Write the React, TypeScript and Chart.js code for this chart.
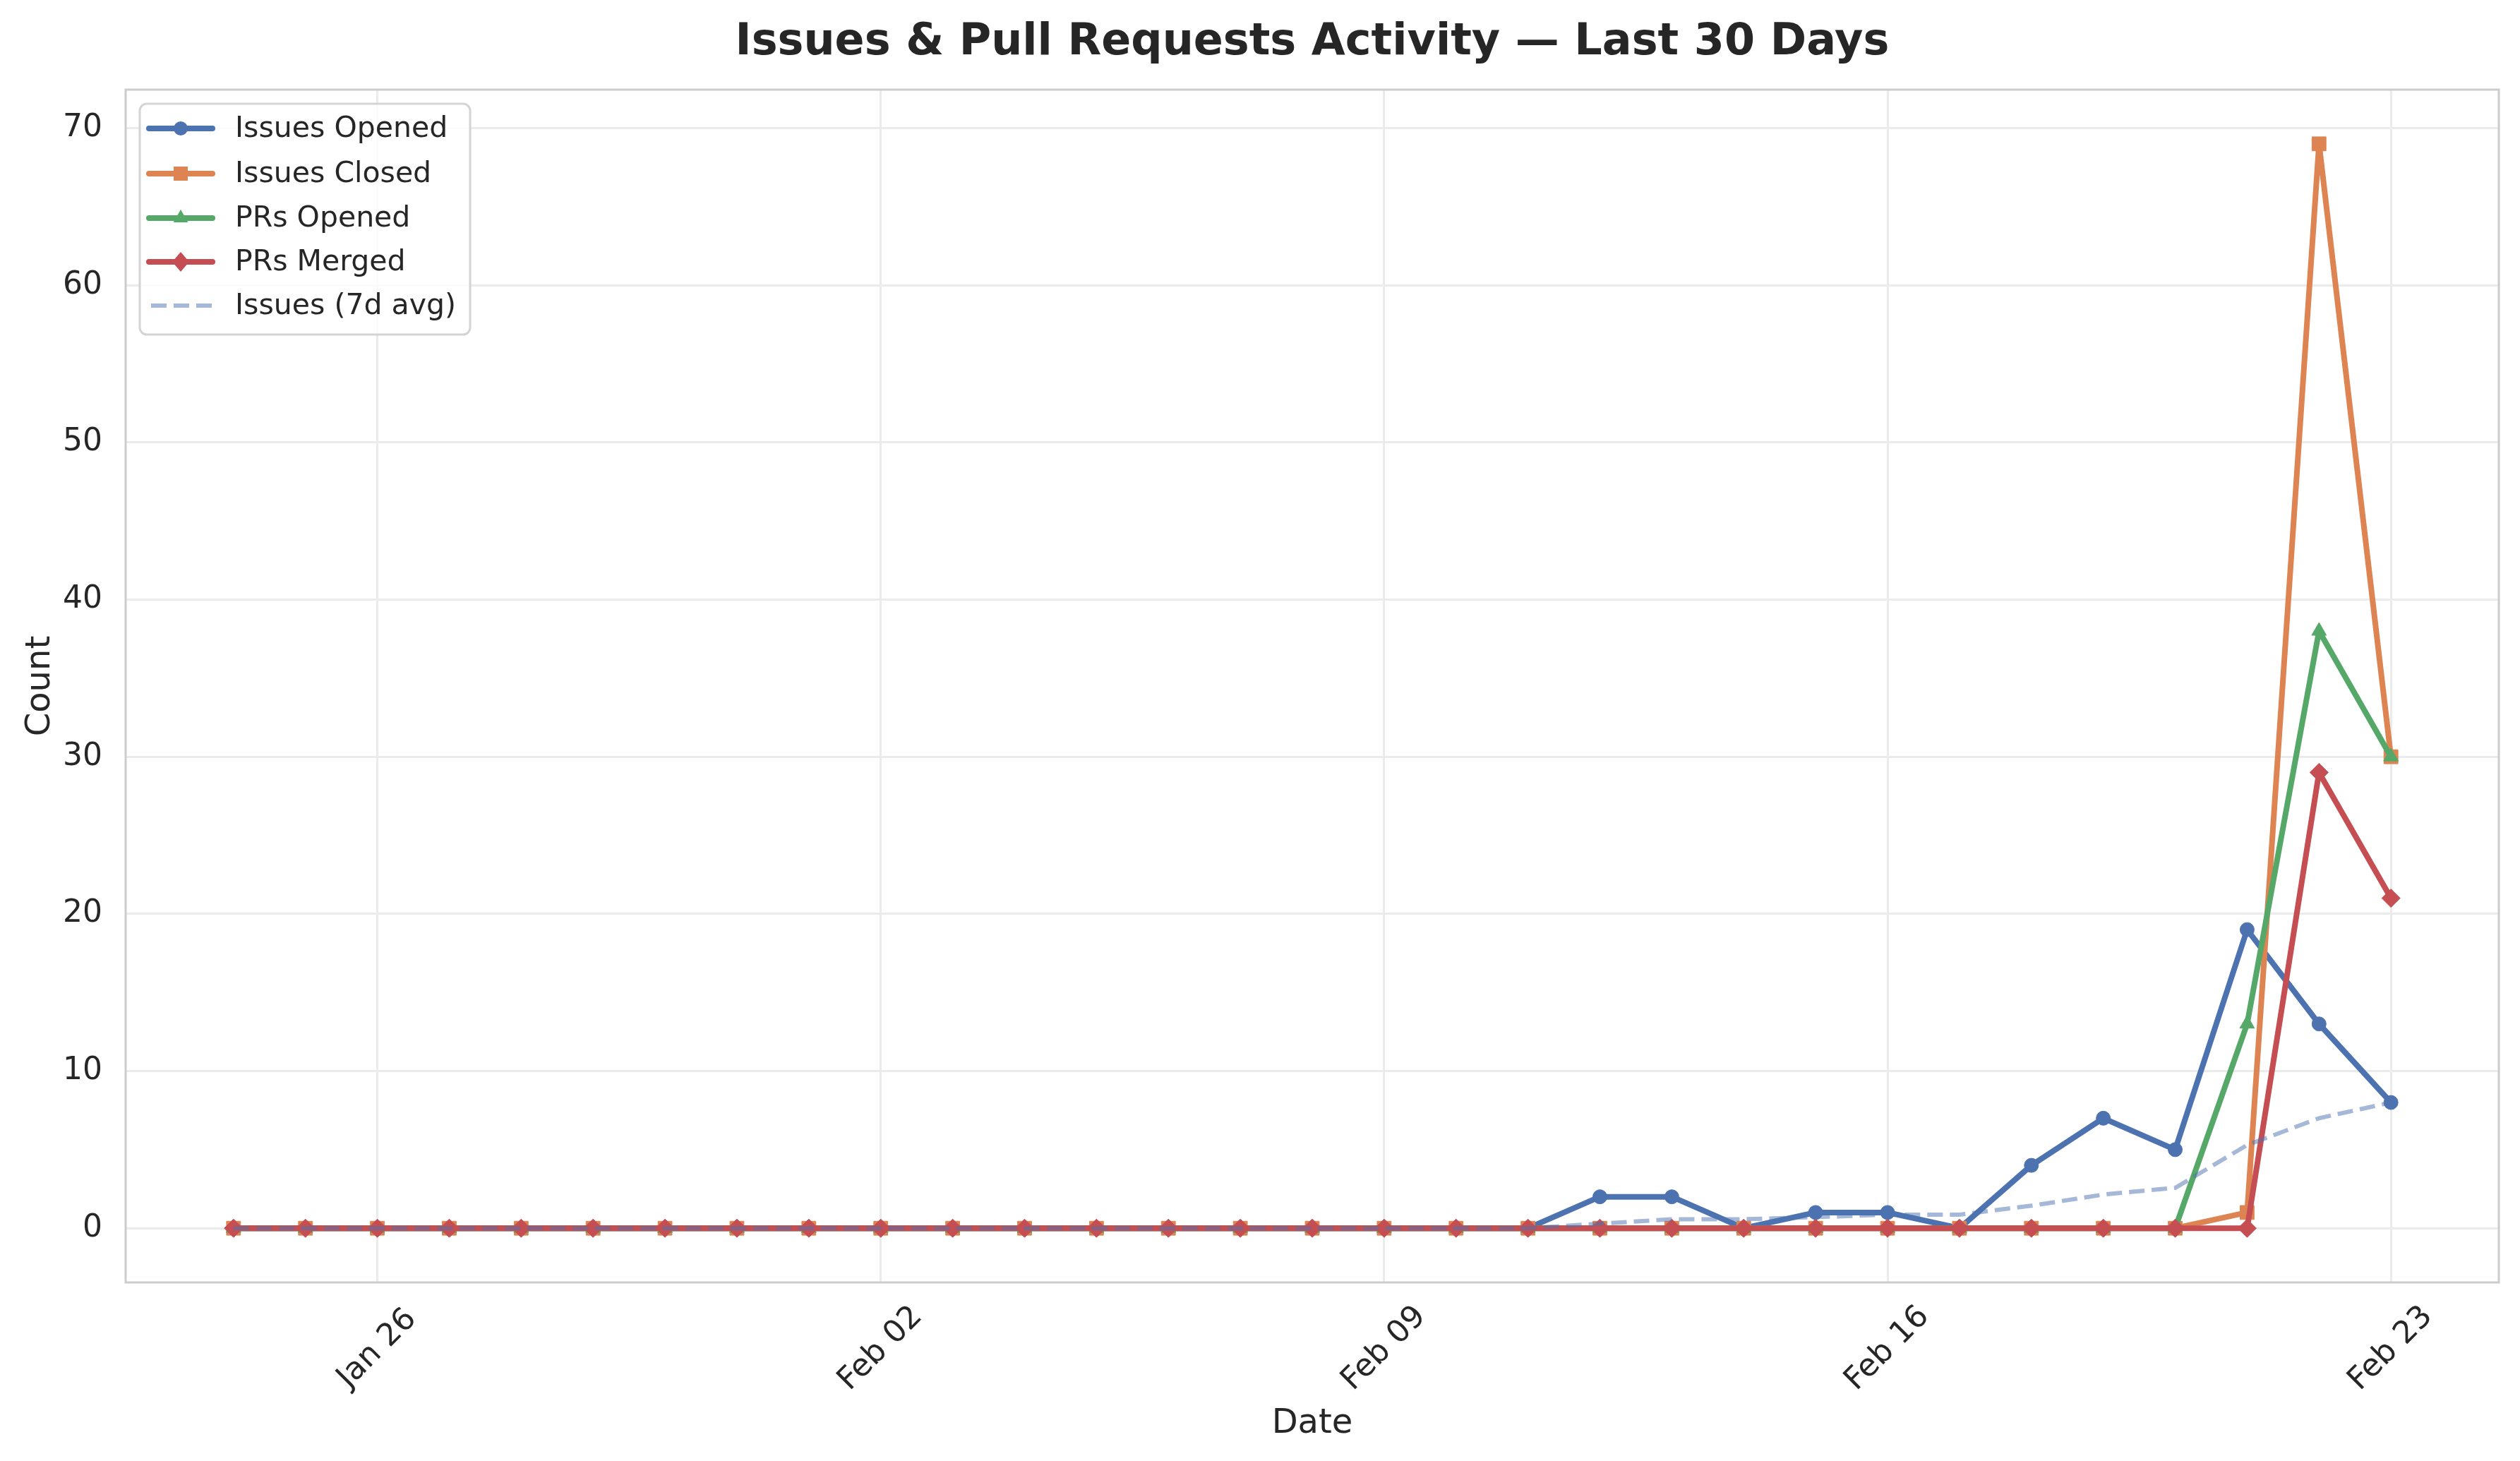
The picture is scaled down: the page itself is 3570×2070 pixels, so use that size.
import React, { useEffect, useRef } from 'react';
import { Chart, registerables } from 'chart.js';

Chart.register(...registerables);

// ---- data ----
const dayLabels = [
  'Jan 24', 'Jan 25', 'Jan 26', 'Jan 27', 'Jan 28', 'Jan 29', 'Jan 30', 'Jan 31',
  'Feb 01', 'Feb 02', 'Feb 03', 'Feb 04', 'Feb 05', 'Feb 06', 'Feb 07', 'Feb 08',
  'Feb 09', 'Feb 10', 'Feb 11', 'Feb 12', 'Feb 13', 'Feb 14', 'Feb 15', 'Feb 16',
  'Feb 17', 'Feb 18', 'Feb 19', 'Feb 20', 'Feb 21', 'Feb 22', 'Feb 23',
];
const xTickPositions = [2, 9, 16, 23, 30];
const xTickLabels = ['Jan 26', 'Feb 02', 'Feb 09', 'Feb 16', 'Feb 23'];
const yTickValues = [0, 10, 20, 30, 40, 50, 60, 70];

const issuesOpened = [
  0, 0, 0, 0, 0, 0, 0, 0, 0, 0, 0, 0, 0, 0, 0, 0, 0, 0, 0,
  2, 2, 0, 1, 1, 0, 4, 7, 5, 19, 13, 8,
];
const issuesClosed = [
  0, 0, 0, 0, 0, 0, 0, 0, 0, 0, 0, 0, 0, 0, 0, 0, 0, 0, 0,
  0, 0, 0, 0, 0, 0, 0, 0, 0, 1, 69, 30,
];
const prsOpened = [
  0, 0, 0, 0, 0, 0, 0, 0, 0, 0, 0, 0, 0, 0, 0, 0, 0, 0, 0,
  0, 0, 0, 0, 0, 0, 0, 0, 0, 13, 38, 30,
];
const prsMerged = [
  0, 0, 0, 0, 0, 0, 0, 0, 0, 0, 0, 0, 0, 0, 0, 0, 0, 0, 0,
  0, 0, 0, 0, 0, 0, 0, 0, 0, 0, 29, 21,
];
const issues7dAvg = [
  0, 0, 0, 0, 0, 0, 0, 0, 0, 0, 0, 0, 0, 0, 0, 0, 0, 0, 0,
  0.29, 0.57, 0.57, 0.71, 0.86, 0.86, 1.43, 2.14, 2.57, 5.29, 7.0, 8.0,
];

const seriesNames = ['Issues Opened', 'Issues Closed', 'PRs Opened', 'PRs Merged', 'Issues (7d avg)'];

// ---- styles ----
const W = 3570;
const H = 2070;
const AREA = { left: 178, right: 3540, top: 127, bottom: 1817 };
const BLUE = '#4C72B0';
const ORANGE = '#DD8452';
const GREEN = '#55A868';
const RED = '#C44E52';
const AVG = 'rgba(76,114,176,0.5)';
const TEXT = '#262626';
const FONT = '"DejaVu Sans", sans-serif';

const toXY = (arr: number[]) => arr.map((v, i) => ({ x: i, y: v }));

function drawMarker(ctx: CanvasRenderingContext2D, kind: string, x: number, y: number, color: string) {
  ctx.save();
  ctx.fillStyle = color;
  ctx.beginPath();
  if (kind === 'circle') {
    ctx.arc(x, y, 10, 0, Math.PI * 2);
  } else if (kind === 'rect') {
    ctx.rect(x - 10, y - 10, 20, 20);
  } else if (kind === 'triangle') {
    const r = 12;
    ctx.moveTo(x, y - r);
    ctx.lineTo(x + r * 0.866, y + r / 2);
    ctx.lineTo(x - r * 0.866, y + r / 2);
    ctx.closePath();
  } else if (kind === 'diamond') {
    ctx.moveTo(x, y - 14);
    ctx.lineTo(x + 12, y);
    ctx.lineTo(x, y + 14);
    ctx.lineTo(x - 12, y);
    ctx.closePath();
  }
  ctx.fill();
  ctx.restore();
}

const decorPlugin = {
  id: 'decor',
  beforeDraw(chart: any) {
    const ctx = chart.ctx as CanvasRenderingContext2D;
    ctx.save();
    ctx.fillStyle = '#ffffff';
    ctx.fillRect(0, 0, chart.width, chart.height);
    ctx.restore();
  },
  beforeDatasetsDraw(chart: any) {
    const ctx = chart.ctx as CanvasRenderingContext2D;
    const a = chart.chartArea;
    ctx.save();
    ctx.strokeStyle = '#cccccc';
    ctx.lineWidth = 3;
    ctx.strokeRect(a.left, a.top, a.right - a.left, a.bottom - a.top);
    ctx.restore();
  },
  afterDraw(chart: any) {
    const ctx = chart.ctx as CanvasRenderingContext2D;
    const a = chart.chartArea;
    const xs = chart.scales.x;
    ctx.save();
    // title
    ctx.fillStyle = TEXT;
    ctx.font = `bold 62px ${FONT}`;
    ctx.textAlign = 'center';
    ctx.textBaseline = 'alphabetic';
    ctx.fillText('Issues & Pull Requests Activity — Last 30 Days', (a.left + a.right) / 2, 77);

    // axis titles
    ctx.font = `48px ${FONT}`;
    ctx.fillText('Date', (a.left + a.right) / 2, 2030);
    ctx.save();
    ctx.translate(70, (a.top + a.bottom) / 2);
    ctx.rotate(-Math.PI / 2);
    ctx.textAlign = 'center';
    ctx.textBaseline = 'alphabetic';
    ctx.fillText('Count', 0, 0);
    ctx.restore();

    // x tick labels (rotated 45°, centered under tick)
    ctx.font = `44px ${FONT}`;
    xTickPositions.forEach((pos, i) => {
      const px = xs.getPixelForValue(pos);
      ctx.save();
      ctx.translate(px, 1911);
      ctx.rotate(-Math.PI / 4);
      ctx.textAlign = 'center';
      ctx.textBaseline = 'middle';
      ctx.fillText(xTickLabels[i], 0, 0);
      ctx.restore();
    });

    // legend
    const lx = 198, ly = 147, lw = 468, lh = 327, rr = 10;
    ctx.beginPath();
    ctx.moveTo(lx + rr, ly);
    ctx.arcTo(lx + lw, ly, lx + lw, ly + lh, rr);
    ctx.arcTo(lx + lw, ly + lh, lx, ly + lh, rr);
    ctx.arcTo(lx, ly + lh, lx, ly, rr);
    ctx.arcTo(lx, ly, lx + lw, ly, rr);
    ctx.closePath();
    ctx.fillStyle = 'rgba(255,255,255,0.8)';
    ctx.fill();
    ctx.strokeStyle = '#d4d4d4';
    ctx.lineWidth = 3;
    ctx.stroke();

    const rows = [182, 246, 309, 371, 433];
    const colors = [BLUE, ORANGE, GREEN, RED, AVG];
    const markers = ['circle', 'rect', 'triangle', 'diamond', ''];
    rows.forEach((ry, i) => {
      ctx.save();
      ctx.strokeStyle = colors[i];
      if (i < 4) {
        ctx.lineWidth = 8;
        ctx.lineCap = 'round';
        ctx.beginPath();
        ctx.moveTo(211, ry);
        ctx.lineTo(301, ry);
        ctx.stroke();
        drawMarker(ctx, markers[i], 256, ry, colors[i]);
      } else {
        ctx.lineWidth = 6;
        ctx.lineCap = 'butt';
        ctx.setLineDash([22, 10]);
        ctx.beginPath();
        ctx.moveTo(214, ry);
        ctx.lineTo(300, ry);
        ctx.stroke();
      }
      ctx.restore();
      ctx.fillStyle = TEXT;
      ctx.font = `41px ${FONT}`;
      ctx.textAlign = 'left';
      ctx.textBaseline = 'middle';
      ctx.fillText(seriesNames[i], 333, ry + 1);
    });
    ctx.restore();
  },
};

function lineDataset(label: string, values: number[], color: string, pointStyle: string, radius: number, order: number) {
  return {
    label,
    data: toXY(values),
    borderColor: color,
    backgroundColor: color,
    borderWidth: 8,
    borderCapStyle: 'round',
    borderJoinStyle: 'round',
    pointStyle,
    pointRadius: radius,
    pointBackgroundColor: color,
    pointBorderColor: color,
    pointBorderWidth: 1,
    tension: 0,
    fill: false,
    order,
  };
}

export default function App() {
  const ref = useRef<HTMLCanvasElement | null>(null);

  useEffect(() => {
    document.body.style.margin = '0';
    document.body.style.overflow = 'hidden';
    const canvas = ref.current;
    if (!canvas) return;
    const chart = new Chart(canvas, {
      type: 'line',
      data: {
        datasets: [
          lineDataset(seriesNames[0], issuesOpened, BLUE, 'circle', 10, 5),
          lineDataset(seriesNames[1], issuesClosed, ORANGE, 'rect', 14, 4),
          lineDataset(seriesNames[2], prsOpened, GREEN, 'triangle', 12, 3),
          lineDataset(seriesNames[3], prsMerged, RED, 'rectRot', 13, 2),
          {
            label: seriesNames[4],
            data: toXY(issues7dAvg),
            borderColor: AVG,
            backgroundColor: AVG,
            borderWidth: 6,
            borderDash: [22, 10],
            pointRadius: 0,
            tension: 0,
            fill: false,
            order: 1,
          },
        ] as any,
      },
      options: {
        responsive: false,
        animation: false,
        devicePixelRatio: 1,
        layout: { padding: { left: 0, right: W - AREA.right, top: AREA.top, bottom: 0 } },
        plugins: {
          legend: { display: false },
          title: { display: false },
          tooltip: { enabled: false },
        },
        scales: {
          x: {
            type: 'linear',
            min: -1.5,
            max: 31.5,
            afterBuildTicks: (scale: any) => {
              scale.ticks = xTickPositions.map((v) => ({ value: v }));
            },
            afterFit: (scale: any) => {
              scale.height = H - AREA.bottom;
            },
            ticks: { display: false },
            grid: { color: '#ebebeb', lineWidth: 3, drawTicks: false },
            border: { display: false },
          },
          y: {
            type: 'linear',
            min: -3.45,
            max: 72.45,
            afterBuildTicks: (scale: any) => {
              scale.ticks = yTickValues.map((v) => ({ value: v }));
            },
            afterFit: (scale: any) => {
              scale.width = AREA.left;
            },
            ticks: {
              color: TEXT,
              padding: 33,
              font: { family: 'DejaVu Sans', size: 44 },
              callback: (v: any) => String(v),
            },
            grid: { color: '#ebebeb', lineWidth: 3, drawTicks: false },
            border: { display: false },
          },
        },
      } as any,
      plugins: [decorPlugin],
    });
    return () => chart.destroy();
  }, []);

  return (
    <div style={{ width: W, height: H }}>
      <canvas ref={ref} width={W} height={H} style={{ display: 'block', width: W, height: H }} />
    </div>
  );
}
